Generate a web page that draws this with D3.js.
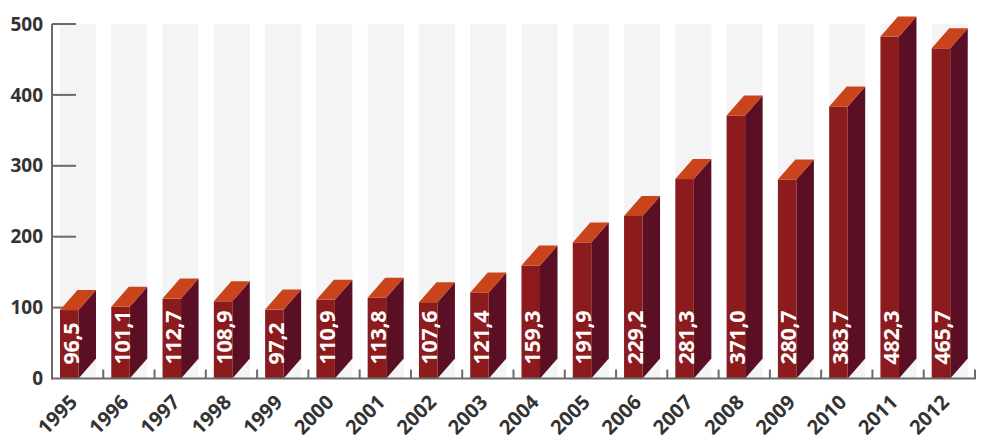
<!DOCTYPE html>
<html><head><meta charset="utf-8">
<script src="https://cdn.jsdelivr.net/npm/d3@7"></script>
<style>body{margin:0;background:#fff}svg{display:block}text{font-family:"Open Sans",sans-serif;font-weight:700}</style>
</head><body><svg id="c" width="1000" height="445"></svg>
<script>
const years = ["1995","1996","1997","1998","1999","2000","2001","2002","2003","2004","2005","2006","2007","2008","2009","2010","2011","2012"];
const values = [96.5,101.1,112.7,108.9,97.2,110.9,113.8,107.6,121.4,159.3,191.9,229.2,281.3,371.0,280.7,383.7,482.3,465.7];
const yTicks = [0,100,200,300,400,500];

const svg = d3.select("#c");
const x = d3.scaleBand().domain(years).range([52, 975]);
const y = d3.scaleLinear().domain([0, 500]).range([378.5, 24]);
const bw = x.bandwidth();
const off = 8, fw = 18.5, dx = 17.5, dy = 20;
const data = years.map((yr, i) => ({yr, v: values[i]}));
const base = y(0);

// stripes
svg.append("g").selectAll("rect").data(years).join("rect")
  .attr("x", d => x(d) + off).attr("width", fw + dx)
  .attr("y", y(500)).attr("height", base - y(500))
  .attr("fill", "#f4f4f4");

// y ticks (to the right)
svg.append("g").selectAll("line").data(yTicks.filter(t => t > 0)).join("line")
  .attr("x1", 52).attr("x2", 76).attr("y1", d => y(d)).attr("y2", d => y(d))
  .attr("stroke", "#6a6a6a").attr("stroke-width", 2);

// bars
const g = svg.append("g").selectAll("g").data(data).join("g");
g.append("path").attr("fill", "#5b0f25").attr("d", d => {
  const x0 = x(d.yr) + off + fw, yt = y(d.v);
  return `M${x0},${yt}L${x0+dx},${yt-dy}L${x0+dx},${base-dy}L${x0},${base}Z`;
});
g.append("rect").attr("fill", "#8c1b1d")
  .attr("x", d => x(d.yr) + off).attr("width", fw)
  .attr("y", d => y(d.v)).attr("height", d => base - y(d.v));
g.append("path").attr("fill", "#c9441b").attr("d", d => {
  const x0 = x(d.yr) + off, yt = y(d.v);
  return `M${x0},${yt}L${x0+fw},${yt}L${x0+fw+dx},${yt-dy}L${x0+dx},${yt-dy}Z`;
});
g.append("text")
  .attr("transform", d => `translate(${x(d.yr) + off + fw},${base - 14}) rotate(-90)`)
  .attr("fill", "#fff").attr("font-size", 21.5).attr("text-anchor", "start")
  .attr("letter-spacing", -0.3)
  .text(d => d3.format(".1f")(d.v).replace(".", ","));

// axes lines
svg.append("line").attr("x1", 52).attr("x2", 52).attr("y1", y(500)).attr("y2", base + 1)
  .attr("stroke", "#6a6a6a").attr("stroke-width", 2);
svg.append("line").attr("x1", 51).attr("x2", 976).attr("y1", base).attr("y2", base)
  .attr("stroke", "#6a6a6a").attr("stroke-width", 2);
svg.append("g").selectAll("line").data(years.slice(1).concat(["end"])).join("line")
  .attr("x1", d => d === "end" ? 975 : x(d)).attr("x2", d => d === "end" ? 975 : x(d))
  .attr("y1", base - 9).attr("y2", base)
  .attr("stroke", "#6a6a6a").attr("stroke-width", 2);

// y labels
svg.append("g").selectAll("text").data(yTicks).join("text")
  .attr("x", 43).attr("y", d => y(d)).attr("dy", "0.35em")
  .attr("text-anchor", "end").attr("font-size", 19).attr("fill", "#333")
  .text(d => d);

// x labels
svg.append("g").selectAll("text").data(years).join("text")
  .attr("transform", d => `translate(${x(d) + bw/2 + 1},${base + 25}) rotate(-45)`)
  .attr("text-anchor", "end").attr("font-size", 20).attr("fill", "#333")
  .text(d => d);
</script></body></html>
